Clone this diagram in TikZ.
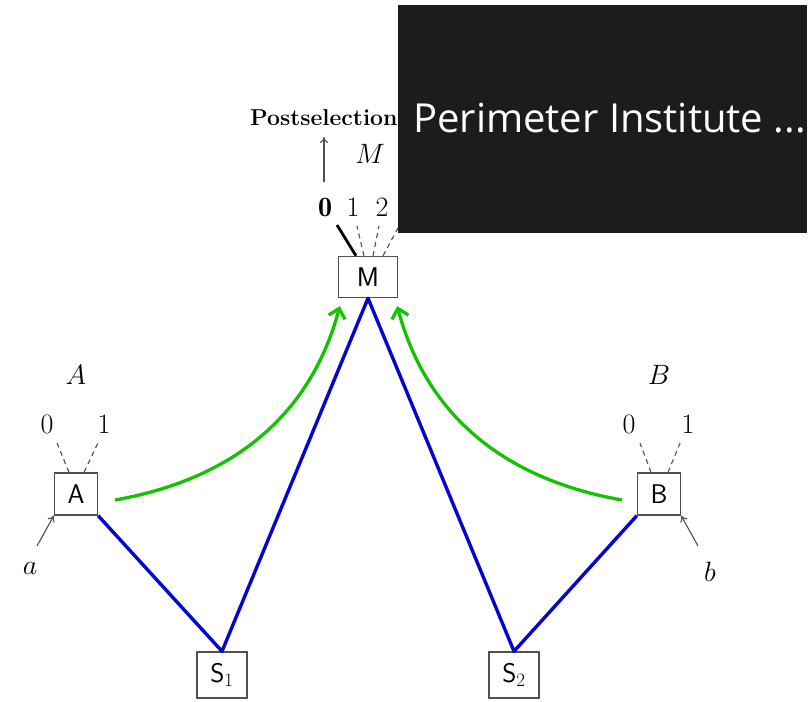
\RequirePackage{fix-cm}
\documentclass[tikz,border=0pt]{standalone}
\usepackage{amsmath,amssymb}
\usepackage{fontspec}
\newfontfamily\bannerfont{Open Sans}
\usepackage{tikz}
\usetikzlibrary{arrows.meta, positioning, calc}
\definecolor{boxgray}{RGB}{80,80,80}
\definecolor{wireblue}{RGB}{5,5,205}
\definecolor{flowgreen}{RGB}{20,195,0}
\definecolor{bannerblack}{RGB}{28,29,27}
\tikzset{
    party_node/.style={
        rectangle, draw=boxgray, line width=1.4pt, fill=white, inner sep=0pt,
        minimum width=43pt, minimum height=42pt, font=\fontsize{27}{32}\selectfont\sffamily
    },
    source_node/.style={
        party_node, minimum width=50pt, minimum height=46pt
    },
    meas_node/.style={
        party_node, minimum width=59pt, minimum height=41pt
    },
    lbl/.style={
        inner sep=0pt, font=\fontsize{28}{32}\selectfont
    },
    wire_blue/.style={
        line width=3.4pt, draw=wireblue, line join=round
    },
    arrow_green/.style={
        line width=3.3pt, draw=flowgreen, -{Straight Barb[length=9pt, width=17pt, line width=3.3pt]}
    },
    setting_dash/.style={
        line width=1.1pt, draw=boxgray, dash pattern=on 5pt off 4pt
    },
    input_arrow/.style={
        line width=1.1pt, draw=boxgray, -{To[length=6pt, width=8pt]}
    }
}

\begin{document}
\begin{tikzpicture}[x=1pt, y=-1pt]
    \useasboundingbox[fill=white] (0,0) rectangle (810,701);

    % Boxes
    \node[meas_node] (M) at (368,277) {M};
    \node[party_node] (A) at (76,494) {A};
    \node[party_node] (B) at (659,494) {B};
    \node[source_node] (S1) at (222,675) {S$_1$};
    \node[source_node] (S2) at (514,675) {S$_2$};

    % Sources
    \draw[wire_blue] (A.south east) -- (S1.north) -- (M.south) -- (S2.north) -- (B.south west);

    % Communication
    \coordinate (gA) at (115,500);
    \coordinate (gB) at (622,500);
    \draw[arrow_green] (gA) to[out=10, in=-105] ([shift={(2pt,-8pt)}]M.south west);
    \draw[arrow_green] (gB) to[out=170, in=-75] ([shift={(-1pt,-8pt)}]M.south east);

    % Alice
    \node[lbl] (labA) at (76,375) {$A$};
    \node[lbl] (a0) at (47,424) {$0$};
    \node[lbl] (a1) at (104,424) {$1$};
    \draw[setting_dash] ([xshift=-7pt]A.north) -- (57,443);
    \draw[setting_dash] ([xshift=8pt]A.north) -- (98,443);
    \node[lbl] (ina) at (30,568) {$a$};
    \coordinate (ina_tail) at (37,546);
    \draw[input_arrow] (ina_tail) -- (A.south west);

    % Bob
    \node[lbl] (labB) at (659,375) {$B$};
    \node[lbl] (b0) at (629,424) {$0$};
    \node[lbl] (b1) at (688,424) {$1$};
    \draw[setting_dash] ([xshift=-8pt]B.north) -- (640,443);
    \draw[setting_dash] ([xshift=9pt]B.north) -- (680,443);
    \node[lbl] (inb) at (710,572) {$b$};
    \coordinate (inb_tail) at (698,546);
    \draw[input_arrow] (inb_tail) -- (B.south east);

    % Measurement
    \node[lbl] (m0) at (325,207) {$\mathbf{0}$};
    \node[lbl] (m1) at (353,207) {$1$};
    \node[lbl] (m2) at (382,207) {$2$};
    \draw[line width=2.8pt] ([xshift=-12pt]M.north) -- (337,225);
    \draw[setting_dash] ([xshift=-4pt]M.north) -- (357,226);
    \draw[setting_dash] ([xshift=5pt]M.north) -- (379,226);
    \draw[setting_dash] ([xshift=15pt]M.north) -- (398,228);
    \node[lbl] (labM) at (370,154) {$M$};
    \coordinate (post_tail) at (324,182);
    \coordinate (post_tip) at (324,137);
    \draw[input_arrow] (post_tail) -- (post_tip);
    \node[lbl, anchor=base west, font=\fontsize{23}{26}\selectfont\bfseries] (post) at (250,125) {Postselection};

    % Overlay
    \node[fill=bannerblack, minimum width=409pt, minimum height=228pt, inner sep=0pt, anchor=north west] (banner) at (398,5) {};
    \node[anchor=base west, inner sep=0pt, text=white, font=\fontsize{40}{44}\bannerfont] (bannertext) at (413,132) {Perimeter Institute ...};
\end{tikzpicture}
\end{document}
